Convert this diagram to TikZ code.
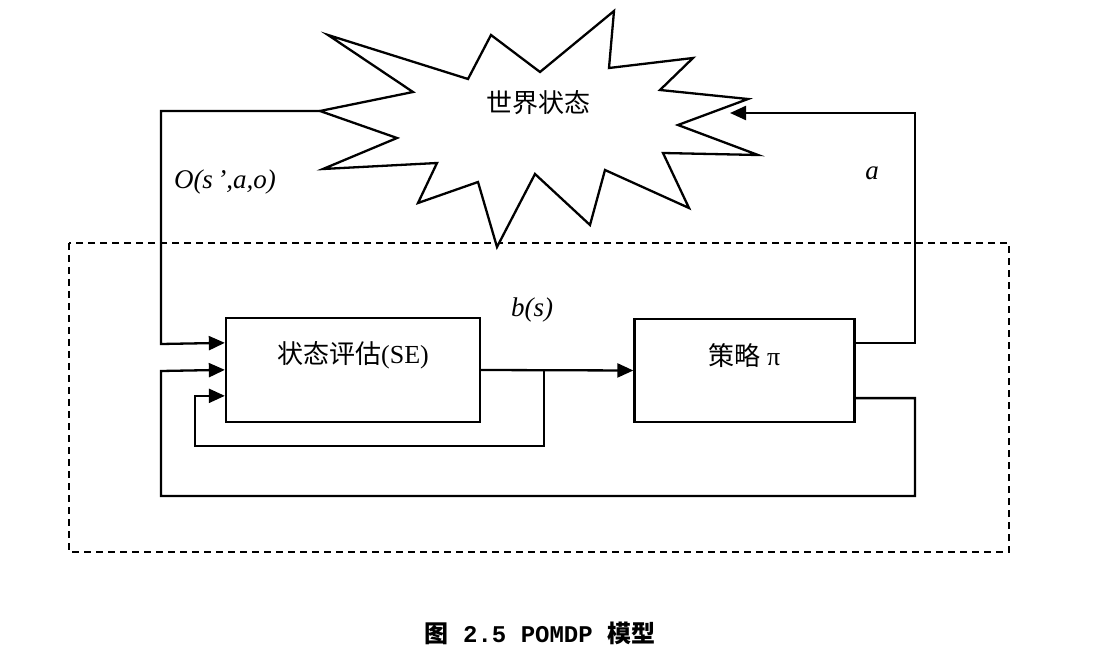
\documentclass[tikz,border=0pt]{standalone}
\usepackage{fontspec}
\setmainfont{Liberation Serif}
\newfontfamily\cjk{Noto Sans CJK SC}
\newfontfamily\capmono{Liberation Mono}
\usetikzlibrary{arrows.meta,calc}
\tikzset{
  ln/.style={line width=2.3pt},
  arr/.style={line width=2.3pt, -{Triangle[length=16pt,width=14pt]}},
  blk/.style={draw, line width=2.3pt, inner sep=0pt},
  big/.style={font=\fontsize{26}{30}\selectfont},
  lab/.style={font=\fontsize{27}{30}\selectfont\itshape},
}
\begin{document}
\begin{tikzpicture}[x=1pt,y=-1pt]
\useasboundingbox (0,0) rectangle (1101,660);
% dashed frame
\draw[line width=2.3pt, dash pattern=on 7pt off 5pt] (69,243) rectangle (1009,552);
% world state star
\draw[ln, fill=white, line join=miter]
  (320,111) coordinate (wl) -- (413,92) -- (328,35) -- (468,79) -- (491,35) -- (540,72)
  -- (614,11) -- (609,68) -- (693,58) -- (660,90) -- (748,99) -- (678,125)
  -- (758,155) -- (663,153) -- (689,208) -- (605,170) -- (590,225) -- (535,174)
  -- (497,247) -- (478,182) -- (418,203) -- (437,163) -- (323,169) -- (397,138) -- cycle;
\coordinate (wr) at (730,113);
\node[big] (world) at (538,103) {\cjk 世界状态};
% boxes
\node[blk, minimum width=254pt, minimum height=104pt,
      label={[big, anchor=center, yshift=15pt]center:{\cjk 状态评估}(SE)}] (se) at (353,370) {};
\node[blk, minimum width=220pt, minimum height=103pt,
      label={[big, anchor=center, yshift=15pt]center:{\cjk 策略} π}] (pol) at (744.5,370.5) {};
% connectors
\draw[arr] (wl) -| (161,344) -- ([yshift=-26pt]se.north west);
\draw[arr] ([yshift=25pt]pol.south east) -| (915,496) -| (161,371) -- ([yshift=-53pt]se.north west);
\draw[arr] ([xshift=63pt]se.east) |- (195,446) |- ([yshift=-79pt]se.north west);
\draw[arr] (se.east) -- (pol.west);
\draw[arr] ([yshift=-25pt]pol.north east) -| (915,113) -- (wr);
% labels
\node[lab] (obs) at (225,182) {O(s\,',a,o)};
\node[lab] (act) at (872,173) {a};
\node[lab] (bel) at (532,310) {b(s)};
% caption
\node[font=\fontsize{24}{28}\selectfont\capmono\bfseries] (cap) at (540,633) {{\cjk\bfseries 图} 2.5 POMDP {\cjk\bfseries 模型}};
\end{tikzpicture}
\end{document}
